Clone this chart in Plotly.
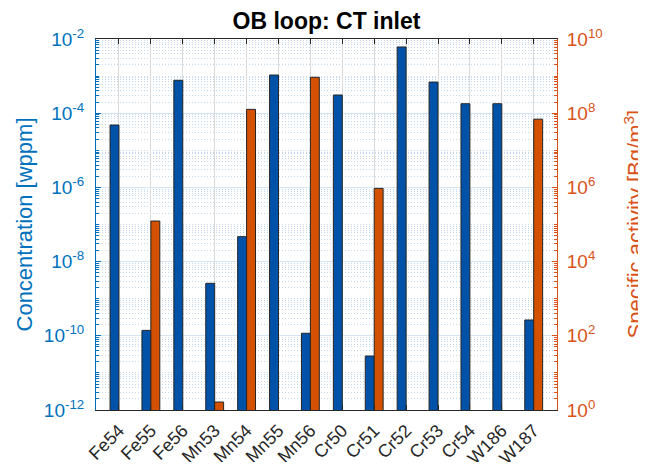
import plotly.graph_objects as go

isotopes = ["Fe54", "Fe55", "Fe56", "Mn53", "Mn54", "Mn55", "Mn56",
            "Cr50", "Cr51", "Cr52", "Cr53", "Cr54", "W186", "W187"]
concentration_wppm = [4.8e-5, 1.4e-10, 7.7e-4, 2.6e-9, 4.7e-8, 1.07e-3, 1.17e-10,
                      3.1e-4, 2.85e-11, 6.1e-3, 6.9e-4, 1.8e-4, 1.8e-4, 2.67e-10]
specific_activity = [None, 1.24e5, None, 1.64, 1.27e8, None, 9.3e8,
                     None, 9.4e5, None, None, None, None, 6.9e7]

left_exps = [-12, -10, -8, -6, -4, -2]
right_exps = [0, 2, 4, 6, 8, 10]

BLUE_BAR = "#0052A8"
ORANGE_BAR = "#D35100"
BLUE_AX = "#0072BD"
ORANGE_AX = "#D95319"
DARK = "#262626"
FONT = "Liberation Sans, Arial, Helvetica, sans-serif"

# the page body has an 8px default margin; keep the page from overflowing the window
W, H = 638, 454
ML, MR, MT, MB = 88, 89, 31, 52
PLOT_W = W - ML - MR


def minor_vals(lo, hi, majors):
    vals = []
    for n in range(lo, hi):
        for k in range(1, 10):
            if k == 1 and n in majors:
                continue
            vals.append(k * 10.0 ** n)
    return vals


fig = go.Figure()
fig.add_trace(go.Bar(
    x=isotopes, y=concentration_wppm, name="Concentration",
    marker=dict(color=BLUE_BAR, line=dict(color=DARK, width=1)),
    width=0.28, offset=-0.28, yaxis="y", showlegend=False))
fig.add_trace(go.Bar(
    x=isotopes, y=specific_activity, name="Specific activity",
    marker=dict(color=ORANGE_BAR, line=dict(color=DARK, width=1)),
    width=0.28, offset=0.0, yaxis="y2", showlegend=False))

fig.update_layout(
    width=W, height=H,
    margin=dict(l=ML, r=MR, t=MT, b=MB),
    paper_bgcolor="white", plot_bgcolor="white",
    font=dict(family=FONT, size=18, color=DARK),
    barmode="overlay",
    title=dict(text="<b>OB loop: CT inlet</b>", x=0.5, xref="paper",
               y=1 - 12.5 / H, yref="container", yanchor="middle",
               font=dict(size=23, color="#000000", family=FONT)),
    xaxis=dict(
        type="category", range=[-0.72, 13.73], automargin=False,
        tickangle=-45, tickfont=dict(size=18, color=DARK),
        ticklabelstandoff=2,
        showline=True, linecolor=DARK, linewidth=1, mirror="ticks",
        ticks="inside", ticklen=5, tickcolor=DARK,
        showgrid=True, gridcolor="#DADADA", gridwidth=1,
        zeroline=False),
    yaxis=dict(
        type="log", range=[-12, -2], automargin=False,
        tickvals=[10.0 ** e for e in left_exps],
        ticktext=[f"10<sup>{e}</sup>" for e in left_exps],
        tickfont=dict(size=19, color=BLUE_AX),
        title=dict(text="Concentration [wppm]", font=dict(size=22, color=BLUE_AX), standoff=5),
        showline=True, linecolor=BLUE_AX, linewidth=1,
        ticks="inside", ticklen=5, tickcolor=BLUE_AX,
        ticklabelstandoff=7,
        showgrid=True, gridcolor="#D6E5F3", gridwidth=1,
        minor=dict(tickmode="array", tickvals=minor_vals(-12, -2, left_exps),
                   ticks="inside", ticklen=3, tickcolor=BLUE_AX,
                   showgrid=True, gridcolor="#C2D9EF", griddash="1px,2px", gridwidth=1),
        zeroline=False),
    yaxis2=dict(
        type="log", range=[0, 10], overlaying="y", side="right", automargin=False,
        tickvals=[10.0 ** e for e in right_exps],
        ticktext=[f"10<sup>{e}</sup>" for e in right_exps],
        tickfont=dict(size=19, color=ORANGE_AX),
        showline=True, linecolor=ORANGE_AX, linewidth=1,
        ticks="inside", ticklen=5, tickcolor=ORANGE_AX,
        ticklabelstandoff=5,
        showgrid=False,
        minor=dict(tickmode="array", tickvals=minor_vals(0, 10, right_exps),
                   ticks="inside", ticklen=3, tickcolor=ORANGE_AX, showgrid=False),
        zeroline=False),
)

# right axis title placed as an annotation (axis titles are clamped to the margin)
fig.add_annotation(
    text="Specific activity [Bq/m<sup>3</sup>]",
    xref="paper", yref="paper", x=(625 - ML) / PLOT_W, y=0.5,
    xanchor="center", yanchor="middle", textangle=-90, showarrow=False,
    font=dict(size=22, color=ORANGE_AX, family=FONT))

fig.write_html("out.html")
